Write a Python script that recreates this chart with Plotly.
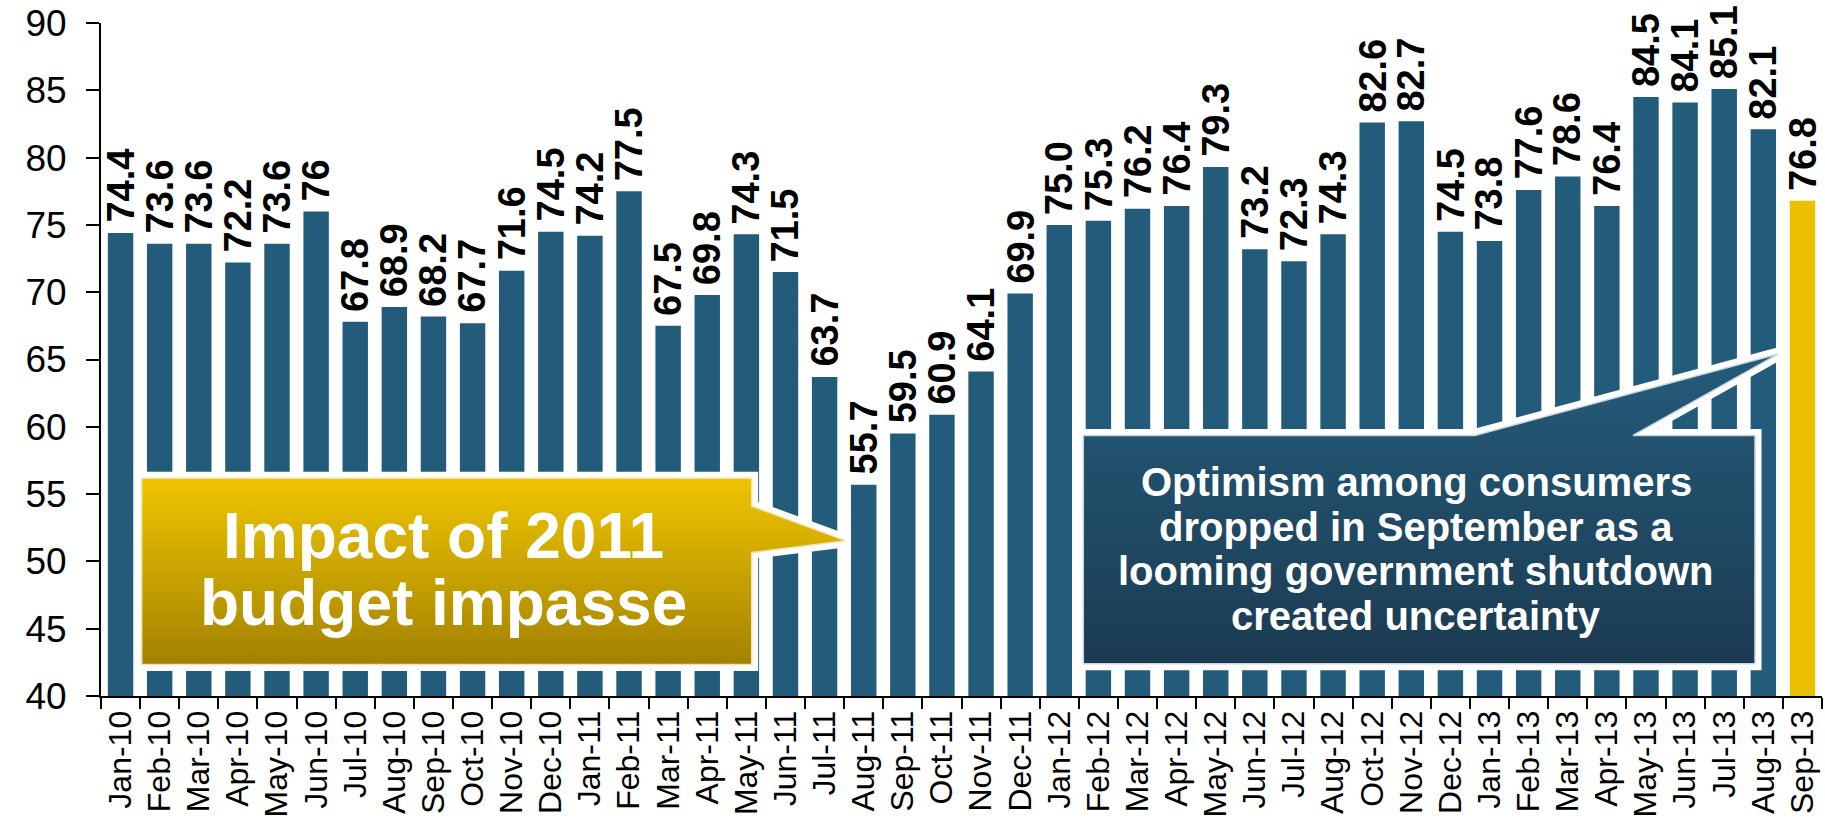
import plotly.graph_objects as go

# ---------------- data ----------------
months = ["Jan-10", "Feb-10", "Mar-10", "Apr-10", "May-10", "Jun-10", "Jul-10", "Aug-10",
          "Sep-10", "Oct-10", "Nov-10", "Dec-10",
          "Jan-11", "Feb-11", "Mar-11", "Apr-11", "May-11", "Jun-11", "Jul-11", "Aug-11",
          "Sep-11", "Oct-11", "Nov-11", "Dec-11",
          "Jan-12", "Feb-12", "Mar-12", "Apr-12", "May-12", "Jun-12", "Jul-12", "Aug-12",
          "Oct-12", "Nov-12", "Dec-12",
          "Jan-13", "Feb-13", "Mar-13", "Apr-13", "May-13", "Jun-13", "Jul-13", "Aug-13",
          "Sep-13"]
values = [74.4, 73.6, 73.6, 72.2, 73.6, 76.0, 67.8, 68.9, 68.2, 67.7, 71.6, 74.5,
          74.2, 77.5, 67.5, 69.8, 74.3, 71.5, 63.7, 55.7, 59.5, 60.9, 64.1, 69.9,
          75.0, 75.3, 76.2, 76.4, 79.3, 73.2, 72.3, 74.3, 82.6, 82.7, 74.5,
          73.8, 77.6, 78.6, 76.4, 84.5, 84.1, 85.1, 82.1, 76.8]
value_labels = ["74.4", "73.6", "73.6", "72.2", "73.6", "76", "67.8", "68.9", "68.2", "67.7",
                "71.6", "74.5",
                "74.2", "77.5", "67.5", "69.8", "74.3", "71.5", "63.7", "55.7", "59.5", "60.9",
                "64.1", "69.9",
                "75.0", "75.3", "76.2", "76.4", "79.3", "73.2", "72.3", "74.3", "82.6", "82.7",
                "74.5",
                "73.8", "77.6", "78.6", "76.4", "84.5", "84.1", "85.1", "82.1", "76.8"]
y_ticks = [40, 45, 50, 55, 60, 65, 70, 75, 80, 85, 90]
callout_left = ["Impact of 2011", "budget impasse"]
callout_right = ["Optimism among consumers", "dropped in September as a",
                 "looming government shutdown", "created uncertainty"]

# ---------------- style ----------------
FONT = "Liberation Sans, Arial, sans-serif"
BLUE = "#235C7B"
GOLD = "#EBC000"
W, H = 1825, 821
L, R, T, B = 101, 1822, 21, 702
NCAT = len(months)

bar_colors = [BLUE] * (NCAT - 1) + [GOLD]


def px_x(p):
    return -0.5 + (p - L) / (R - L) * NCAT


def px_y(p):
    return y_ticks[0] + (B - p) / (B - T) * (y_ticks[-1] - y_ticks[0])


fig = go.Figure()
fig.add_trace(go.Bar(
    x=months, y=values, marker=dict(color=bar_colors, line=dict(width=0)),
    hoverinfo="skip", showlegend=False,
))

# bar value labels
annotations = []
for m, v, t in zip(months, values, value_labels):
    annotations.append(dict(
        x=m, y=v, xref="x", yref="y", text=t, showarrow=False,
        textangle=-90, yanchor="bottom", xanchor="center", yshift=8,
        font=dict(family=FONT, size=38, color="black", weight="bold"),
    ))


def callout(pts, c_top, c_bot, edge):
    xs = [px_x(p[0]) for p in pts] + [px_x(pts[0][0])]
    ys = [px_y(p[1]) for p in pts] + [px_y(pts[0][1])]
    # white halo
    fig.add_trace(go.Scatter(
        x=xs, y=ys, xaxis="x2", yaxis="y2", mode="lines", fill="toself",
        fillcolor="white", line=dict(color="white", width=13),
        hoverinfo="skip", showlegend=False,
    ))
    ymin, ymax = min(ys), max(ys)
    fig.add_trace(go.Scatter(
        x=xs, y=ys, xaxis="x2", yaxis="y2", mode="lines", fill="toself",
        fillgradient=dict(type="vertical", start=ymin, stop=ymax,
                          colorscale=[[0, c_bot], [1, c_top]]),
        line=dict(color=edge, width=1.5),
        hoverinfo="skip", showlegend=False,
    ))


gold_pts = [(141.7, 481.7), (751.7, 481.7), (751.7, 510), (846, 545), (751.7, 556.7),
            (751.7, 670), (141.7, 670)]
callout(gold_pts, "#EDC300", "#A07F00", "#F3E3A8")

blue_pts = [(1083.3, 438.3), (1475, 438.3), (1778, 356), (1633, 438.3), (1755, 438.3),
            (1755, 669.3), (1083.3, 669.3)]
callout(blue_pts, "#245B7A", "#1B3A50", "#C9D6DE")

# callout texts
for txt, cy in zip(callout_left, [540, 608]):
    annotations.append(dict(
        x=px_x(443), y=px_y(cy), xref="x2", yref="y2", text=txt, showarrow=False,
        xanchor="center", yanchor="middle",
        font=dict(family=FONT, size=64, color="white", weight="bold"),
    ))
for txt, cy in zip(callout_right, [485, 530.5, 575.5, 621.5]):
    annotations.append(dict(
        x=px_x(1416), y=px_y(cy), xref="x2", yref="y2", text=txt, showarrow=False,
        xanchor="center", yanchor="middle",
        font=dict(family=FONT, size=40, color="white", weight="bold"),
    ))

fig.update_layout(
    width=W, height=H,
    margin=dict(l=L, r=W - R, t=T, b=H - B, pad=0),
    paper_bgcolor="white", plot_bgcolor="white",
    bargap=0.35,
    showlegend=False,
    annotations=annotations,
    xaxis=dict(
        type="category", categoryorder="array", categoryarray=months,
        range=[-0.5, NCAT - 0.5],
        showline=True, linecolor="black", linewidth=2,
        ticks="outside", tickson="boundaries", ticklen=11, tickwidth=2, tickcolor="black",
        tickangle=-90, tickfont=dict(family=FONT, size=32, color="black"),
        showgrid=False, zeroline=False, fixedrange=True,
    ),
    yaxis=dict(
        range=[y_ticks[0], y_ticks[-1]], tickvals=y_ticks,
        showline=True, linecolor="black", linewidth=2,
        ticks="outside", ticklen=13, tickwidth=2, tickcolor="black",
        tickfont=dict(family=FONT, size=37, color="black"),
        ticklabelstandoff=12,
        showgrid=False, zeroline=False, fixedrange=True,
    ),
    xaxis2=dict(overlaying="x", anchor="y2", range=[-0.5, NCAT - 0.5], visible=False,
                fixedrange=True),
    yaxis2=dict(overlaying="y", anchor="x2", range=[y_ticks[0], y_ticks[-1]], visible=False,
                fixedrange=True),
)

fig.write_html("out.html", config={"displayModeBar": False},
               post_script="document.body.style.margin='0';document.body.style.overflow='hidden';")
